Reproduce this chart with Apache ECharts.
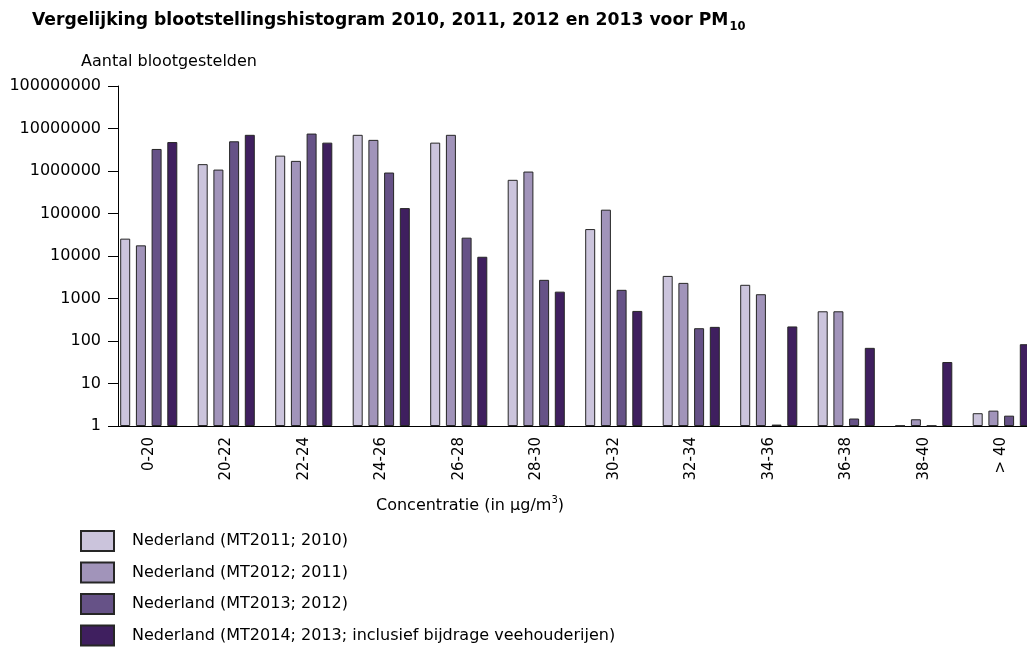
<!DOCTYPE html>
<html>
<head>
<meta charset="utf-8">
<script src="https://cdn.jsdelivr.net/npm/echarts@6/dist/echarts.min.js"></script>
<style>
html,body{margin:0;padding:0;background:#fff;}
#chart{width:1027px;height:648px;}
</style>
</head>
<body>
<div id="chart"></div>
<script>
const categories = ['0-20','20-22','22-24','24-26','26-28','28-30','30-32','32-34','34-36','36-38','38-40','> 40'];
const seriesNames = [
  'Nederland (MT2011; 2010)',
  'Nederland (MT2012; 2011)',
  'Nederland (MT2013; 2012)',
  'Nederland (MT2014; 2013; inclusief bijdrage veehouderijen)'
];
const values2010 = [25600, 1450000, 2300000, 7100000, 4650000, 620000, 43000, 3400, 2100, 500, 1.02, 2.0];
const values2011 = [17800, 1080000, 1730000, 5400000, 7100000, 970000, 123000, 2330, 1260, 500, 1.44, 2.3];
const values2012 = [3300000, 5000000, 7600000, 920000, 27000, 2750, 1600, 200, 1.08, 1.5, 1.02, 1.75];
const values2013 = [4800000, 7100000, 4650000, 134000, 9600, 1450, 510, 215, 220, 69, 32, 84];
const colors = ['#cbc4dc', '#a194ba', '#665287', '#3f1f5f'];

const FONT_W = '"DejaVu Sans", sans-serif';
const allValues = [values2010, values2011, values2012, values2013];

const chart = echarts.init(document.getElementById('chart'), null, {renderer: 'canvas'});
chart.setOption({
  animation: false,
  backgroundColor: '#fff',
  textStyle: {fontFamily: FONT_W},
  title: {
    left: 32, top: 12, padding: 0,
    text: '{a|Vergelijking blootstellingshistogram 2010, 2011, 2012 en 2013 voor PM}{s|10}',
    textStyle: {
      rich: {
        a: {fontFamily: FONT_W, fontSize: 17.2, fontWeight: 'bold', color: '#000', lineHeight: 20, verticalAlign: 'top'},
        s: {fontFamily: FONT_W, fontSize: 11.5, fontWeight: 'bold', color: '#000', lineHeight: 20, padding: [9, 0, 0, 1], verticalAlign: 'top'}
      }
    }
  },
  graphic: [
    {type: 'text', x: 81, y: 62, style: {text: 'Aantal blootgestelden', font: '16px ' + FONT_W, fill: '#000', textVerticalAlign: 'middle'}},
    {type: 'text', x: 470, y: 504, style: {
      text: '{a|Concentratie (in µg/m}{s|3}{a|)}',
      align: 'center', verticalAlign: 'middle',
      rich: {
        a: {fontFamily: FONT_W, fontSize: 16, color: '#000', lineHeight: 20, verticalAlign: 'bottom'},
        s: {fontFamily: FONT_W, fontSize: 10, color: '#000', lineHeight: 20, padding: [0, 0, 9, 0], verticalAlign: 'bottom'}
      }
    }}
  ],
  legend: {
    orient: 'vertical', left: 80, top: 530, height: 140, padding: 0,
    icon: 'rect',
    itemWidth: 33, itemHeight: 20, itemGap: 9.5,
    data: seriesNames,
    textStyle: {fontFamily: FONT_W, fontSize: 16, lineHeight: 20, color: '#000', padding: [0, 0, 0, 13]}
  },
  grid: {left: 110, top: 86, width: 930, height: 340, outerBoundsMode: 'none', containLabel: false},
  xAxis: {
    type: 'category',
    data: categories,
    axisLine: {lineStyle: {color: '#000', width: 1}},
    axisTick: {show: false},
    axisLabel: {rotate: 90, margin: 11, fontFamily: FONT_W, fontSize: 15, color: '#000', interval: 0}
  },
  yAxis: {
    type: 'log', logBase: 10, min: 1, max: 100000000,
    offset: -8,
    splitLine: {show: false},
    axisLine: {show: true, lineStyle: {color: '#000', width: 1}},
    axisTick: {show: true, length: 10, lineStyle: {color: '#000'}},
    minorTick: {show: false},
    axisLabel: {margin: 17, fontFamily: FONT_W, fontSize: 16, color: '#000',
      formatter: v => String(Math.round(v))}
  },
  series: seriesNames.map((name, i) => ({
    name: name,
    type: 'bar',
    data: allValues[i],
    barWidth: 10,
    barGap: '57%',
    itemStyle: {color: colors[i], borderColor: '#262626', borderWidth: 1}
  }))
});
</script>
</body>
</html>
